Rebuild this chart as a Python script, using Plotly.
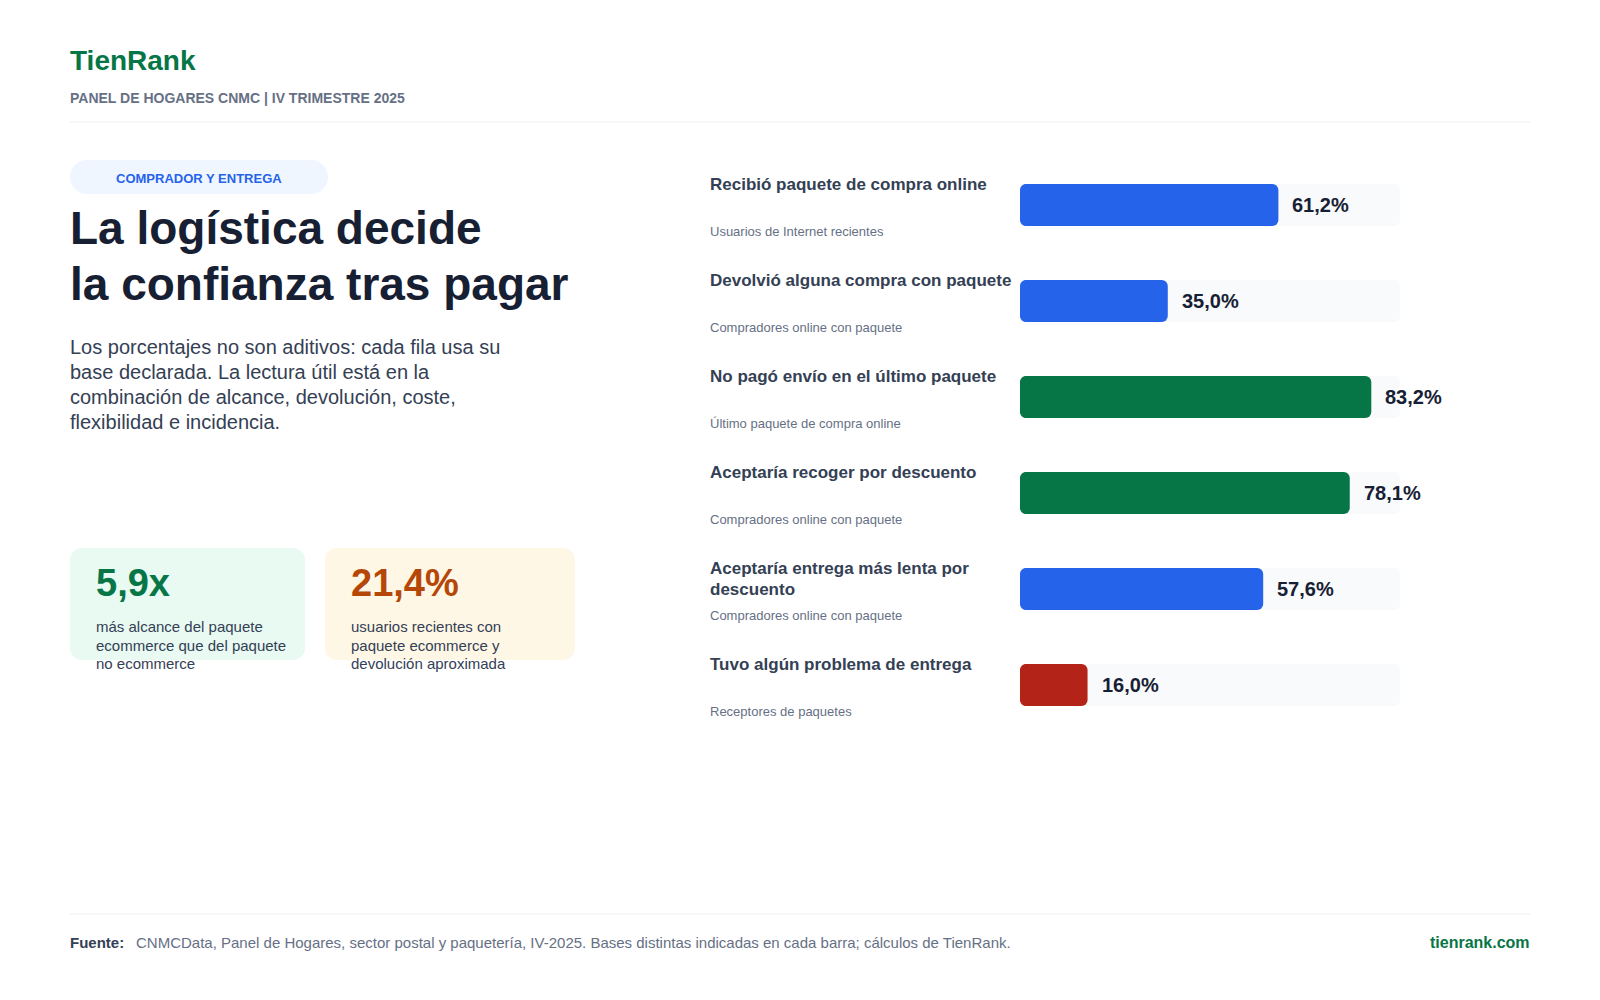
import plotly.graph_objects as go

# filas de la barra
labels = ["Recibió paquete de compra online", "Devolvió alguna compra con paquete",
          "No pagó envío en el último paquete", "Aceptaría recoger por descuento",
          "Aceptaría entrega más lenta por<br>descuento", "Tuvo algún problema de entrega"]
bases = ["Usuarios de Internet recientes", "Compradores online con paquete",
         "Último paquete de compra online", "Compradores online con paquete",
         "Compradores online con paquete", "Receptores de paquetes"]
values = [61.2, 35.0, 83.2, 78.1, 57.6, 16.0]
value_labels = ["61,2%", "35,0%", "83,2%", "78,1%", "57,6%", "16,0%"]
axis_max = [90, 90, 90, 90, 90, 90]

title_lines = ["La logística decide", "la confianza tras pagar"]
intro_lines = ["Los porcentajes no son aditivos: cada fila usa su",
               "base declarada. La lectura útil está en la",
               "combinación de alcance, devolución, coste,",
               "flexibilidad e incidencia."]
kpi_1 = ["más alcance del paquete", "ecommerce que del paquete", "no ecommerce"]
kpi_2 = ["usuarios recientes con", "paquete ecommerce y", "devolución aproximada"]

BLUE = "#2563EB"
GREEN = "#067647"
RED = "#B42318"
ORANGE = "#B54708"
INK = "#172033"
SLATE = "#344054"
GREY = "#667085"
FONT = "Liberation Sans"
W, H = 1600, 1000
K = 0.4477  # control de curva para aproximar un arco
bar_colors = [BLUE, BLUE, GREEN, GREEN, BLUE, RED]

fig = go.Figure()
# la pista va en su propio par de ejes, debajo de las barras de color
fig.add_bar(y=labels, x=axis_max, orientation="h", xaxis="x", yaxis="y",
            marker=dict(color="#F8FAFC", line_width=0, cornerradius=6),
            hoverinfo="skip", showlegend=False)
fig.add_bar(y=labels, x=values, orientation="h", xaxis="x2", yaxis="y2",
            marker=dict(color=bar_colors, line_width=0, cornerradius=6), showlegend=False)


def text(s, x, base, size, color=SLATE, bold=False, anchor="left", xref="paper", yref="paper",
         y=None, xshift=0):
    # base = linea base en pixeles (o desplazamiento si yref es el eje)
    if yref == "paper":
        y = 1 - base / H
    fig.add_annotation(text=f"<b>{s}</b>" if bold else s, x=x, y=y, xref=xref, yref=yref,
                       xanchor=anchor, yanchor="bottom", showarrow=False, borderpad=0, borderwidth=0,
                       xshift=xshift, yshift=-(base if yref != "paper" else 0) - 0.212 * size,
                       font=dict(family=FONT, size=size, color=color), align=anchor)


def pt(x, y):
    return f"{x / W} {1 - y / H}"


def box(x0, y0, x1, y1, r, color):
    # rectangulo redondeado en pixeles, pasado a coordenadas paper
    k = r * K
    path = (f"M {pt(x0+r, y0)} L {pt(x1-r, y0)} C {pt(x1-k, y0)} {pt(x1, y0+k)} {pt(x1, y0+r)} "
            f"L {pt(x1, y1-r)} C {pt(x1, y1-k)} {pt(x1-k, y1)} {pt(x1-r, y1)} "
            f"L {pt(x0+r, y1)} C {pt(x0+k, y1)} {pt(x0, y1-k)} {pt(x0, y1-r)} "
            f"L {pt(x0, y0+r)} C {pt(x0, y0+k)} {pt(x0+k, y0)} {pt(x0+r, y0)} Z")
    fig.add_shape(type="path", path=path, xref="paper", yref="paper", fillcolor=color, line_width=0, layer="below")


def left_corners(x, top, bottom, r):
    # plotly solo redondea la punta de la barra: se recorta el lado izquierdo con blanco
    k = r * K
    path = (f"M {pt(x, top)} L {pt(x+r, top)} C {pt(x+k, top)} {pt(x, top+k)} {pt(x, top+r)} Z "
            f"M {pt(x, bottom)} L {pt(x+r, bottom)} C {pt(x+k, bottom)} {pt(x, bottom-k)} {pt(x, bottom-r)} Z")
    fig.add_shape(type="path", path=path, xref="paper", yref="paper", fillcolor="white", line_width=0, layer="above")


# cabecera
text("TienRank", 70/W, 70, 28, GREEN, True)
text("PANEL DE HOGARES CNMC | IV TRIMESTRE 2025", 70/W, 103, 14, GREY, True)
box(70, 160, 328, 194, 17, "#EFF6FF")
text("COMPRADOR Y ENTREGA", 199/W, 183, 13, BLUE, True, anchor="center")
for i, line in enumerate(title_lines):
    text(line, 70/W, 244.65 + 56 * i, 46, INK, True)
for i, line in enumerate(intro_lines):
    text(line, 70/W, 354 + 25 * i, 20, SLATE)

# tarjetas
box(70, 548, 305, 660, 12, "#E8FAF2")
box(325, 548, 575, 660, 12, "#FFF7E6")
text("5,9x", 96/W, 596, 38, GREEN, True)
text("21,4%", 351/W, 596, 38, ORANGE, True)
for i, line in enumerate(kpi_1):
    text(line, 96/W, 632 + 18.4 * i, 15, SLATE)
for i, line in enumerate(kpi_2):
    text(line, 351/W, 632 + 18.4 * i, 15, SLATE)

# rotulos de cada fila
for row, (lab, sub, val, vlab) in enumerate(zip(labels, bases, values, value_labels)):
    for i, line in enumerate(lab.split("<br>")):
        text(line, 710/W, -15 + 21 * i, 17, SLATE, True, yref="y", y=lab)
    text(sub, 710/W, 31, 13, GREY, yref="y", y=lab)
    text(vlab, val, 7, 20, INK, True, xref="x", yref="y", y=lab, xshift=14)
    left_corners(1020, 184 + 96 * row, 226 + 96 * row, 6)

# pie
text("Fuente:", 70/W, 948, 15, SLATE, True)
text("CNMCData, Panel de Hogares, sector postal y paquetería, IV-2025. Bases distintas indicadas en cada barra; cálculos de TienRank.",
     136/W, 948, 15, GREY)
text("tienrank.com", 1530/W, 948, 16, GREEN, True, anchor="right")

for y_line in (122, 914):
    fig.add_shape(type="line", x0=70/W, x1=1530/W, y0=1 - y_line/H, y1=1 - y_line/H, xref="paper", yref="paper",
                  line=dict(color="#F2F4F7", width=1.5), layer="below")

x_dom = [1020 / W, 1400 / W]
y_dom = [1 - 733 / H, 1 - 157 / H]
y_axis = dict(domain=y_dom, range=[5.5, -0.5], type="category", categoryorder="array",
              categoryarray=labels, visible=False, fixedrange=True)
fig.update_layout(
    width=W, height=H, margin=dict(l=0, r=0, t=0, b=0),
    paper_bgcolor="white", plot_bgcolor="rgba(0,0,0,0)",
    bargap=1 - 42 / 96,
    xaxis=dict(domain=x_dom, range=[0, 90], visible=False, fixedrange=True),
    yaxis=y_axis,
    xaxis2=dict(domain=x_dom, range=[0, 90], visible=False, fixedrange=True, overlaying="x", anchor="y2"),
    yaxis2=dict(y_axis, overlaying="y", anchor="x2"),
)

fig.write_html("out.html", config={"displayModeBar": False}, post_script="document.body.style.margin='0';")
